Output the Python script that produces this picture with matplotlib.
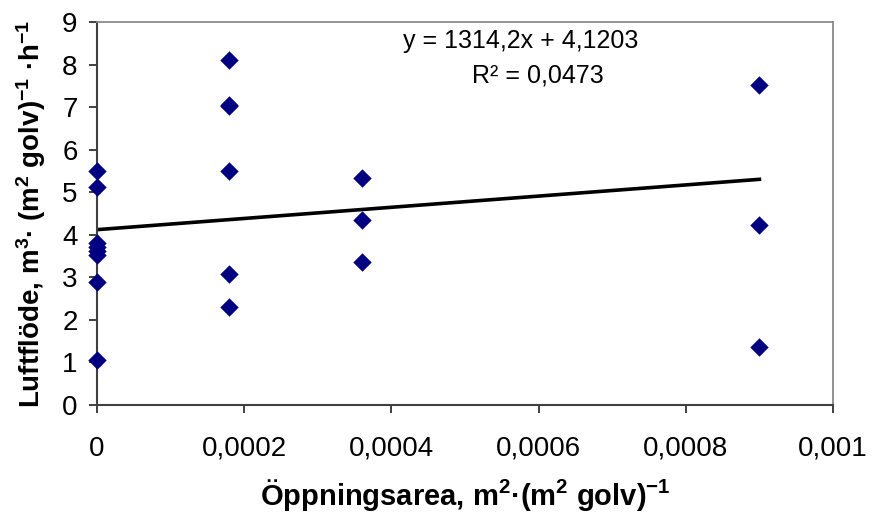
import matplotlib
matplotlib.use("Agg")
import matplotlib.pyplot as plt
from matplotlib.ticker import FixedLocator

# Data
x_open = [0, 0, 0, 0, 0, 0, 0, 0,
          0.00018, 0.00018, 0.00018, 0.00018, 0.00018, 0.00018,
          0.00036, 0.00036, 0.00036,
          0.0009, 0.0009, 0.0009]
y_flow = [5.50, 5.13, 3.80, 3.71, 3.62, 3.52, 2.89, 1.06,
          8.11, 7.06, 7.02, 5.50, 3.09, 2.31,
          5.34, 4.35, 3.36,
          7.53, 4.24, 1.36]
trend_slope = 1314.2
trend_intercept = 4.1203
r_squared = 0.0473
x_ticks = [0, 0.0002, 0.0004, 0.0006, 0.0008, 0.001]
x_tick_labels = ["0", "0,0002", "0,0004", "0,0006", "0,0008", "0,001"]
y_ticks = [0, 1, 2, 3, 4, 5, 6, 7, 8, 9]

fam = ["Liberation Sans", "DejaVu Sans"]
plt.rcParams["font.family"] = fam
plt.rcParams["mathtext.fontset"] = "custom"
plt.rcParams["mathtext.rm"] = "Liberation Sans"
plt.rcParams["mathtext.bf"] = "Liberation Sans:bold"
plt.rcParams["mathtext.default"] = "bf"

W, H = 872, 515
fig = plt.figure(figsize=(W / 100, H / 100), dpi=100)
ax = fig.add_axes([97 / W, 1 - 405 / H, (833 - 97) / W, (405 - 22) / H])

ax.scatter(x_open, y_flow, marker="D", s=88, color="#000080", zorder=3,
           linewidths=0, clip_on=False)
x_line = [min(x_open), max(x_open)]
y_line = [trend_slope * v + trend_intercept for v in x_line]
ax.plot(x_line, y_line, color="black", linewidth=2.6, zorder=2)

ax.set_xlim(0, 0.001)
ax.set_ylim(0, 9)
ax.xaxis.set_major_locator(FixedLocator(x_ticks))
ax.set_xticklabels(x_tick_labels)
ax.set_yticks(y_ticks)

for side in ["top", "right"]:
    ax.spines[side].set_color("#8a8a8a")
    ax.spines[side].set_linewidth(1.3)
for side in ["left", "bottom"]:
    ax.spines[side].set_color("#404040")
    ax.spines[side].set_linewidth(1.5)

ax.tick_params(axis="both", direction="out", length=6, width=1.2,
               color="#202020", labelsize=20)
ax.tick_params(axis="x", pad=16)
ax.tick_params(axis="y", pad=8)

ax.set_xlabel("Öppningsarea, m$^{2}$·(m$^{2}$ golv)$^{-1}$", fontsize=21,
              fontweight="bold", labelpad=11)
ax.set_ylabel("Luftflöde, m$^{3}$· (m$^{2}$ golv)$^{-1}$ ·h$^{-1}$", fontsize=20,
              fontweight="bold", labelpad=10)

eq_text = "y = {}x + {}".format(str(trend_slope).replace(".", ","),
                                str(trend_intercept).replace(".", ","))
fig.text(521 / W, 1 - 41 / H, eq_text, ha="center", va="center", fontsize=18)
fig.text(538 / W, 1 - 76 / H, "R² = " + str(r_squared).replace(".", ","),
         ha="center", va="center", fontsize=18)

fig.savefig("out.png", dpi=100)
